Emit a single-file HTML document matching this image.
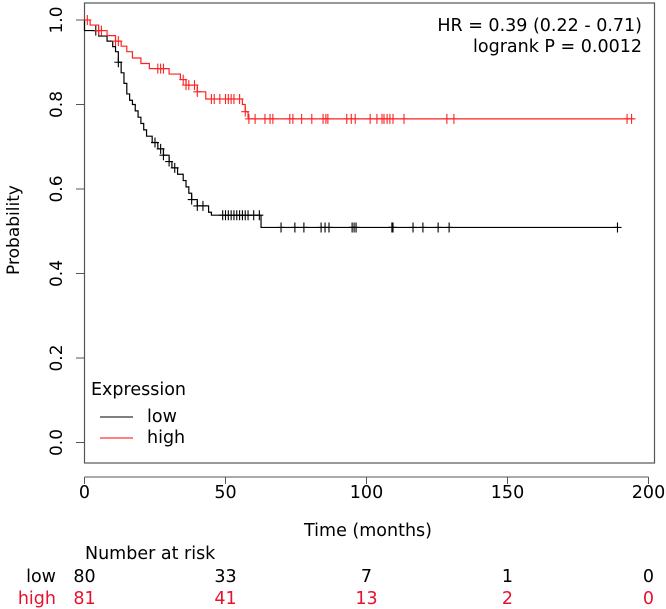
<!DOCTYPE html>
<html><head><meta charset="utf-8"><style>
body{margin:0;background:#fff}
svg{display:block;font-family:"DejaVu Sans","Liberation Sans",sans-serif}
</style></head><body>
<svg id="c" width="666" height="609" viewBox="0 0 666 609" xmlns="http://www.w3.org/2000/svg">
<rect x="84.5" y="3" width="570" height="460" fill="none" stroke="#555" stroke-width="1.2"/>
<g id="axes"></g>
<g id="series"></g>
<text x="642" y="31" text-anchor="end" font-size="17.5">HR = 0.39 (0.22 - 0.71)</text>
<text x="642" y="52" text-anchor="end" font-size="17.5">logrank P = 0.0012</text>
<g>
<text x="91" y="395" font-size="17.5">Expression</text>
<line x1="100" y1="417" x2="133" y2="417" stroke="#000"/>
<text x="147" y="422" font-size="17.5">low</text>
<line x1="100" y1="438" x2="133" y2="438" stroke="#f00"/>
<text x="147" y="443" font-size="17.5">high</text>
</g>
<text transform="translate(19,230) rotate(-90)" text-anchor="middle" font-size="17">Probability</text>
<text x="368" y="536" text-anchor="middle" font-size="17.5">Time (months)</text>
<text x="85" y="559" font-size="17.5">Number at risk</text>
<text x="56" y="582" text-anchor="end" font-size="17.5">low</text>
<text x="56" y="604" text-anchor="end" font-size="17.5" fill="#e8112d">high</text>
<g id="risk"></g>
</svg>
<script>
const xTicks=[0,50,100,150,200];
const yTicks=[0,0.2,0.4,0.6,0.8,1.0];
const lowTimes=[0,5,8,10,11,12,13,14,15,16,17,18,19,20,21,22,24,26,28,30,31,33,35,36,37,38,40,44,45,62.6,189];
const lowSurv=[0.975,0.962,0.95,0.937,0.925,0.9,0.875,0.85,0.825,0.81,0.8,0.785,0.77,0.755,0.74,0.725,0.71,0.695,0.68,0.665,0.65,0.635,0.62,0.605,0.59,0.575,0.56,0.545,0.538,0.509,0.509];
const lowCensor=[4,12,25,27,28,30,32,38,40,42,49,50,51,52,53,54,55,56,57,58,60,62,69.7,74.6,77.8,83.9,85.3,86.7,94.9,95.6,96.3,109,109.4,116.5,120,125.4,129.3,189];
const highTimes=[0,2,5,8,11,13,15,17,20,23,30,34,36,40,43,56,57,58,195];
const highSurv=[1.0,0.988,0.975,0.963,0.95,0.938,0.925,0.91,0.897,0.885,0.872,0.859,0.846,0.83,0.813,0.8,0.783,0.766,0.766];
const highCensor=[1,5,6,11,12,26,27,28,35,36,37,39,40,45,46,48,50,51,52,53,55,57,58.3,60.5,64,65.8,66.8,72.8,73.9,77,80.6,84.6,85.6,86.3,93,94.6,96,101.3,103.7,105.5,106.2,107.3,108.3,109.4,113.3,128.5,131,192.4,194];
const riskLow=[80,33,7,1,0];
const riskHigh=[81,41,13,2,0];

const NS="http://www.w3.org/2000/svg";
const X=t=>84.5+t*2.82;
const Y=p=>442.5-p*422.5;
function mk(tag,attrs,parent){const e=document.createElementNS(NS,tag);for(const k in attrs)e.setAttribute(k,attrs[k]);parent.appendChild(e);return e;}
const axes=document.getElementById('axes');
mk('line',{x1:X(0),y1:477,x2:X(200),y2:477,stroke:'#555'},axes);
xTicks.forEach(t=>{
  const l=mk('line',{x1:X(t),y1:477,x2:X(t),y2:484,stroke:'#555'},axes);
  
  
  const tx=mk('text',{x:X(t),y:498,'text-anchor':'middle','font-size':17.5},axes);
  tx.textContent=t;
  
  
});
yTicks.forEach(p=>{
  const l=mk('line',{x1:76,y1:Y(p),x2:84.5,y2:Y(p),stroke:'#555'},axes);
  
  
  const tx=mk('text',{transform:`translate(62,${Y(p)}) rotate(-90)`,'text-anchor':'middle','font-size':17},axes);
  tx.textContent=p.toFixed(1);
  
  
});
const ser=document.getElementById('series');
function survAt(times,surv,t){let s=surv[0];for(let i=0;i<times.length;i++){if(times[i]<=t)s=surv[i];}return s;}
function draw(times,surv,cens,color,name){
  let d=`M${X(0)},${Y(1)}`;
  for(let i=0;i<times.length;i++){d+=` H${X(times[i])} V${Y(surv[i])}`;}
  const p=mk('path',{d:d,fill:'none',stroke:color,'stroke-width':1.2},ser);
  
  
  cens.forEach(t=>{
    const y=Y(survAt(times,surv,t)),x=X(t);
    const c=mk('path',{d:`M${x},${y-5}V${y+5}M${x-4},${y}H${x+4}`,stroke:color,'stroke-width':1.1},ser);
    
    
  });
}
draw(lowTimes,lowSurv,lowCensor,'#000','low');
draw(highTimes,highSurv,highCensor,'#f22','high');
const risk=document.getElementById('risk');
xTicks.forEach((t,i)=>{
  const a=mk('text',{x:X(t),y:582,'text-anchor':'middle','font-size':17.5},risk);
  a.textContent=riskLow[i];
  
  
  const b=mk('text',{x:X(t),y:604,'text-anchor':'middle','font-size':17.5,fill:'#e8112d'},risk);
  b.textContent=riskHigh[i];
  
  
});
</script>
</body></html>
